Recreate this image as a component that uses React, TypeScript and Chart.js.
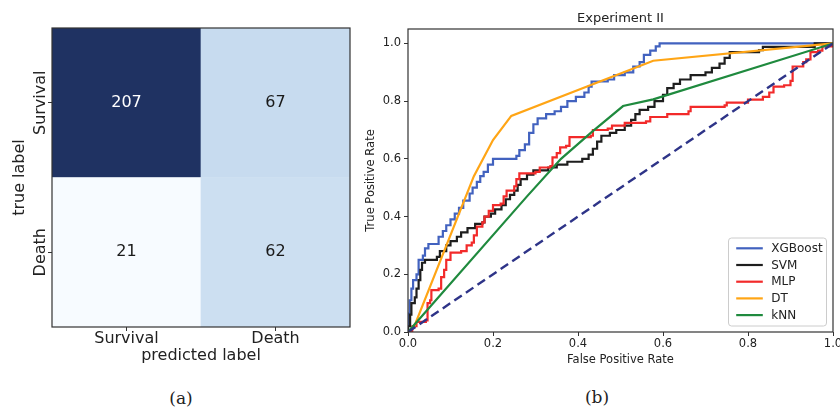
import React, { useEffect, useRef } from "react";
import { Chart, registerables } from "chart.js";

Chart.register(...registerables);

// ---------- Confusion matrix data ----------
const predictedLabels = ["Survival", "Death"];
const trueLabels = ["Survival", "Death"];
const survivalRow = [207, 67]; // true Survival
const deathRow = [21, 62]; // true Death

// ---------- ROC data ----------
const rocTitle = "Experiment II";
const xTicks = [0, 0.2, 0.4, 0.6, 0.8, 1.0];
const yTicks = [0, 0.2, 0.4, 0.6, 0.8, 1.0];

const xgboostRoc = [
  [0, 0], [0, 0.064], [0.004, 0.11], [0.008, 0.15], [0.012, 0.18], [0.02, 0.2], [0.025, 0.25],
  [0.035, 0.265], [0.04, 0.29], [0.048, 0.305], [0.072, 0.33], [0.082, 0.35], [0.09, 0.37],
  [0.1, 0.39], [0.11, 0.41], [0.12, 0.43], [0.13, 0.455], [0.145, 0.48], [0.152, 0.5],
  [0.162, 0.52], [0.17, 0.54], [0.178, 0.555], [0.188, 0.58], [0.2, 0.6], [0.255, 0.61],
  [0.262, 0.63], [0.275, 0.65], [0.285, 0.69], [0.295, 0.72], [0.305, 0.74], [0.325, 0.755],
  [0.345, 0.765], [0.36, 0.78], [0.375, 0.8], [0.395, 0.815], [0.415, 0.83], [0.425, 0.85],
  [0.432, 0.868], [0.47, 0.875], [0.485, 0.89], [0.51, 0.9], [0.53, 0.92], [0.545, 0.935],
  [0.555, 0.96], [0.57, 0.975], [0.583, 0.99], [0.592, 1.0], [1, 1],
];
const svmRoc = [
  [0, 0], [0, 0.02], [0.005, 0.06], [0.008, 0.1], [0.016, 0.12], [0.02, 0.15], [0.025, 0.18],
  [0.029, 0.215], [0.033, 0.24], [0.04, 0.25], [0.068, 0.26], [0.075, 0.28], [0.09, 0.3],
  [0.1, 0.315], [0.115, 0.33], [0.125, 0.345], [0.14, 0.36], [0.158, 0.375], [0.175, 0.38],
  [0.18, 0.4], [0.195, 0.41], [0.205, 0.425], [0.22, 0.44], [0.23, 0.46], [0.24, 0.475],
  [0.25, 0.49], [0.258, 0.51], [0.265, 0.53], [0.28, 0.545], [0.295, 0.56], [0.33, 0.57],
  [0.35, 0.58], [0.375, 0.59], [0.41, 0.6], [0.425, 0.615], [0.435, 0.635], [0.445, 0.66],
  [0.455, 0.68], [0.475, 0.69], [0.49, 0.7], [0.51, 0.715], [0.525, 0.735], [0.535, 0.755],
  [0.545, 0.77], [0.565, 0.78], [0.58, 0.8], [0.6, 0.822], [0.61, 0.845], [0.625, 0.86],
  [0.64, 0.875], [0.665, 0.89], [0.7, 0.9], [0.715, 0.915], [0.733, 0.93], [0.745, 0.95],
  [0.757, 0.97], [0.826, 0.977], [0.835, 0.988], [0.955, 0.988], [0.957, 1.0], [1, 1],
];
const mlpRoc = [
  [0, 0], [0.01, 0.02], [0.02, 0.035], [0.042, 0.04], [0.046, 0.1], [0.052, 0.11], [0.055, 0.145],
  [0.072, 0.15], [0.078, 0.19], [0.085, 0.215], [0.09, 0.25], [0.1, 0.275], [0.125, 0.28],
  [0.138, 0.3], [0.15, 0.31], [0.155, 0.335], [0.162, 0.365], [0.175, 0.38], [0.18, 0.4],
  [0.19, 0.42], [0.2, 0.44], [0.218, 0.445], [0.225, 0.47], [0.232, 0.49], [0.25, 0.505],
  [0.255, 0.53], [0.262, 0.55], [0.3, 0.555], [0.31, 0.57], [0.335, 0.575], [0.34, 0.605],
  [0.35, 0.62], [0.358, 0.64], [0.372, 0.645], [0.38, 0.675], [0.43, 0.68], [0.435, 0.7],
  [0.47, 0.705], [0.48, 0.715], [0.51, 0.725], [0.56, 0.73], [0.57, 0.745], [0.61, 0.755],
  [0.66, 0.765], [0.665, 0.78], [0.745, 0.785], [0.75, 0.795], [0.8, 0.805], [0.835, 0.815],
  [0.85, 0.83], [0.86, 0.85], [0.885, 0.855], [0.9, 0.87], [0.905, 0.92], [0.93, 0.935],
  [0.937, 0.945], [0.947, 0.97], [0.965, 0.975], [0.975, 0.99], [1, 1],
];
const dtRoc = [
  [0, 0], [0.015, 0.02], [0.155, 0.54], [0.2, 0.665], [0.243, 0.749], [0.577, 0.94], [1, 1],
];
const knnRoc = [
  [0, 0], [0.28, 0.47], [0.36, 0.6], [0.43, 0.69], [0.506, 0.783], [0.577, 0.806], [1, 1],
];
const chanceRoc = [
  [0, 0], [1, 1],
];

const FONT = '"DejaVu Sans", sans-serif';
const TEXT = "#222222";
const AXIS = "#333333";

// Blues colormap (with observed dark end)
const BLUES = ["#f7fbff", "#deebf7", "#c6dbef", "#9ecae1", "#6baed6", "#4292c6", "#2171b5", "#08519c", "#1f3262"];
function hexToRgb(h: string) {
  const n = parseInt(h.slice(1), 16);
  return [(n >> 16) & 255, (n >> 8) & 255, n & 255];
}
function blues(t: number) {
  const tt = Math.max(0, Math.min(1, t));
  const pos = tt * (BLUES.length - 1);
  const i = Math.min(Math.floor(pos), BLUES.length - 2);
  const f = pos - i;
  const a = hexToRgb(BLUES[i]);
  const b = hexToRgb(BLUES[i + 1]);
  const c = a.map((v, k) => Math.round(v + (b[k] - v) * f));
  return `rgb(${c[0]},${c[1]},${c[2]})`;
}

const allCounts = [...survivalRow, ...deathRow];
const vmin = Math.min(...allCounts);
const vmax = Math.max(...allCounts);
const thresh = (vmin + vmax) / 2;
const cellColor = (v: number) => blues((v - vmin) / (vmax - vmin));

const frameBox = {
  id: "frameBox",
  afterDraw(chart: any) {
    const { ctx, chartArea } = chart;
    ctx.save();
    ctx.strokeStyle = AXIS;
    ctx.lineWidth = 1.2;
    ctx.strokeRect(chartArea.left, chartArea.top, chartArea.right - chartArea.left, chartArea.bottom - chartArea.top);
    ctx.restore();
  },
};

const cmLabels = {
  id: "cmLabels",
  afterDatasetsDraw(chart: any) {
    const ctx = chart.ctx;
    ctx.save();
    ctx.font = `16px ${FONT}`;
    ctx.textAlign = "center";
    ctx.textBaseline = "middle";
    chart.data.datasets.forEach((ds: any, di: number) => {
      const meta = chart.getDatasetMeta(di);
      meta.data.forEach((bar: any, i: number) => {
        const { x, y, base } = bar.getProps(["x", "y", "base"], true);
        const v = ds.counts[i];
        ctx.fillStyle = v > thresh ? "#ffffff" : "#1a1a1a";
        ctx.fillText(String(v), x, (y + base) / 2);
      });
    });
    // rotated y tick labels
    const ys = chart.scales.y;
    ctx.fillStyle = TEXT;
    ctx.textBaseline = "alphabetic";
    trueLabels.forEach((lab, i) => {
      const yPix = ys.getPixelForValue(trueLabels.length - 1 - i + 0.5);
      ctx.save();
      ctx.translate(ys.right - 7, yPix);
      ctx.rotate(-Math.PI / 2);
      ctx.fillText(lab, 0, 0);
      ctx.restore();
    });
    ctx.restore();
  },
};

const rocExtras = {
  id: "rocExtras",
  afterDraw(chart: any) {
    const { ctx, chartArea } = chart;
    ctx.save();
    // title
    ctx.fillStyle = TEXT;
    ctx.font = `13px ${FONT}`;
    ctx.textAlign = "center";
    ctx.textBaseline = "alphabetic";
    ctx.fillText(rocTitle, (chartArea.left + chartArea.right) / 2, 21.7);
    // legend
    const items = chart.data.datasets.filter((d: any) => d.label);
    const w = 98;
    const h = 88;
    const bx = chartArea.right - 6.5 - w;
    const by = chartArea.bottom - 6 - h;
    ctx.beginPath();
    ctx.roundRect(bx, by, w, h, 3);
    ctx.fillStyle = "rgba(255,255,255,0.85)";
    ctx.fill();
    ctx.strokeStyle = "#cccccc";
    ctx.lineWidth = 1;
    ctx.stroke();
    ctx.font = `12px ${FONT}`;
    ctx.textAlign = "left";
    ctx.textBaseline = "middle";
    items.forEach((d: any, i: number) => {
      const y = by + 10.3 + i * 16.7;
      ctx.beginPath();
      ctx.moveTo(bx + 7.7, y);
      ctx.lineTo(bx + 34.3, y);
      ctx.strokeStyle = d.borderColor;
      ctx.lineWidth = 2.2;
      ctx.stroke();
      ctx.fillStyle = TEXT;
      ctx.fillText(d.label, bx + 42.7, y + 0.5);
    });
    ctx.restore();
  },
};

const toXY = (arr: number[][]) => arr.map(([x, y]) => ({ x, y }));

export default function App() {
  const cmRef = useRef<HTMLCanvasElement>(null);
  const rocRef = useRef<HTMLCanvasElement>(null);

  useEffect(() => {
    const cm = new Chart(cmRef.current as HTMLCanvasElement, {
      type: "bar",
      data: {
        labels: predictedLabels,
        datasets: [
          {
            label: trueLabels[1],
            counts: deathRow,
            data: deathRow.map(() => 1),
            backgroundColor: deathRow.map(cellColor),
            borderWidth: 0,
            barPercentage: 1,
            categoryPercentage: 1,
          } as any,
          {
            label: trueLabels[0],
            counts: survivalRow,
            data: survivalRow.map(() => 1),
            backgroundColor: survivalRow.map(cellColor),
            borderWidth: 0,
            barPercentage: 1,
            categoryPercentage: 1,
          } as any,
        ],
      },
      options: {
        animation: false,
        responsive: true,
        maintainAspectRatio: false,
        layout: { padding: { top: 28, right: 30, left: 0, bottom: 0 } },
        plugins: { legend: { display: false }, tooltip: { enabled: false }, title: { display: false } },
        scales: {
          x: {
            type: "category",
            stacked: true,
            offset: true,
            grid: { display: true, offset: false, drawOnChartArea: false, drawTicks: true, tickLength: 4, color: AXIS },
            border: { display: false },
            ticks: { font: { size: 16, family: FONT, lineHeight: 1 }, color: TEXT, padding: 0, maxRotation: 0 },
            title: { display: true, text: "predicted label", font: { size: 16, family: FONT }, color: TEXT, padding: { top: 0, bottom: 14.3 } },
            afterFit: (s: any) => { s.height = 53; s.paddingLeft = 0; s.paddingRight = 0; },
          },
          y: {
            type: "linear",
            stacked: true,
            min: 0,
            max: trueLabels.length,
            afterBuildTicks: (s: any) => { s.ticks = trueLabels.map((_, i) => ({ value: i + 0.5 })); },
            grid: { display: true, drawOnChartArea: false, drawTicks: true, tickLength: 4, color: AXIS },
            border: { display: false },
            ticks: { display: false },
            title: { display: true, text: "true label", font: { size: 16, family: FONT }, color: TEXT, padding: { top: 10.1, bottom: 0 } },
            afterFit: (s: any) => { s.width = 52; s.paddingTop = 0; s.paddingBottom = 0; },
          },
        },
      } as any,
      plugins: [cmLabels, frameBox],
    });

    const series = [
      { label: "XGBoost", pts: xgboostRoc, color: "#4262bf", stepped: "before" },
      { label: "SVM", pts: svmRoc, color: "#1e1e1e", stepped: "before" },
      { label: "MLP", pts: mlpRoc, color: "#f22a2a", stepped: "before" },
      { label: "DT", pts: dtRoc, color: "#ffa515", stepped: false },
      { label: "kNN", pts: knnRoc, color: "#1f8a3e", stepped: false },
    ];
    const datasets: any[] = series.map((s, i) => ({
      label: s.label,
      data: toXY(s.pts),
      showLine: true,
      borderColor: s.color,
      backgroundColor: s.color,
      borderWidth: 2.2,
      pointRadius: 0,
      stepped: s.stepped,
      fill: false,
      order: 10 - i,
    }));
    datasets.push({
      label: "",
      data: toXY(chanceRoc),
      showLine: true,
      borderColor: "#2e3488",
      borderWidth: 2.4,
      borderDash: [9, 5],
      pointRadius: 0,
      fill: false,
      order: 0,
    });

    const tickFmt = (v: any) => Number(v).toFixed(1);
    const roc = new Chart(rocRef.current as HTMLCanvasElement, {
      type: "scatter",
      data: { datasets },
      options: {
        animation: false,
        responsive: true,
        maintainAspectRatio: false,
        layout: { padding: { top: 29, right: 7, left: 0, bottom: 0 } },
        plugins: { legend: { display: false }, tooltip: { enabled: false }, title: { display: false } },
        scales: {
          x: {
            type: "linear",
            min: 0,
            max: 1,
            afterBuildTicks: (s: any) => { s.ticks = xTicks.map((v) => ({ value: v })); },
            grid: { display: true, drawOnChartArea: false, drawTicks: true, tickLength: 4, color: AXIS },
            border: { display: false },
            ticks: { callback: tickFmt, font: { size: 11.5, family: FONT, lineHeight: 1 }, color: TEXT, padding: 2.5, maxRotation: 0, autoSkip: false },
            title: { display: true, text: "False Positive Rate", font: { size: 11.5, family: FONT }, color: TEXT, padding: { top: 0, bottom: 13.1 } },
            afterFit: (s: any) => { s.height = 48; s.paddingLeft = 0; s.paddingRight = 0; },
          },
          y: {
            type: "linear",
            min: 0,
            max: 1.05,
            afterBuildTicks: (s: any) => { s.ticks = yTicks.map((v) => ({ value: v })); },
            grid: { display: true, drawOnChartArea: false, drawTicks: true, tickLength: 4, color: AXIS },
            border: { display: false },
            ticks: { callback: tickFmt, font: { size: 11.5, family: FONT }, color: TEXT, padding: 3, autoSkip: false },
            title: { display: true, text: "True Positive Rate", font: { size: 11.5, family: FONT }, color: TEXT, padding: { top: 24.1, bottom: 0 } },
            afterFit: (s: any) => { s.width = 68; s.paddingTop = 0; s.paddingBottom = 0; },
          },
        },
      } as any,
      plugins: [frameBox, rocExtras],
    });

    return () => {
      cm.destroy();
      roc.destroy();
    };
  }, []);

  const caption: React.CSSProperties = {
    position: "absolute",
    width: 100,
    height: 20,
    lineHeight: "20px",
    textAlign: "center",
    font: '17px "DejaVu Serif", serif',
    color: "#222",
  };

  return (
    <div style={{ position: "absolute", left: 0, top: 0, width: 840, height: 412, background: "#ffffff", overflow: "hidden" }}>
      <div style={{ position: "absolute", left: 0, top: 0, width: 380, height: 380 }}>
        <canvas ref={cmRef} />
      </div>
      <div style={{ position: "absolute", left: 340, top: 0, width: 500, height: 380 }}>
        <canvas ref={rocRef} />
      </div>
      <div style={{ ...caption, left: 131, top: 388.4 }}>(a)</div>
      <div style={{ ...caption, left: 547, top: 387.4 }}>(b)</div>
    </div>
  );
}
